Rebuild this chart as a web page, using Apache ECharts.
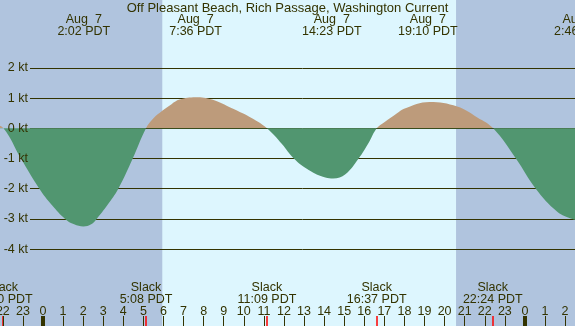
<!DOCTYPE html>
<html>
<head>
<meta charset="utf-8">
<script src="https://cdn.jsdelivr.net/npm/echarts@6/dist/echarts.min.js"></script>
<style>
html, body { margin: 0; padding: 0; }
#chart { width: 575px; height: 326px; }
</style>
</head>
<body>
<div id="chart"></div>
<script>
"use strict"
// current speed (kt), hours from midnight Aug 7 PDT (negative = Aug 6, >24 = Aug 8)
var curHours = [-2.5, -1.97, -1.1, -0.18, 0.45, 1.1, 1.55, 2.01, 2.4, 2.67, 3.2, 3.75, 4.47, 5.13,
    5.5, 5.94, 6.4, 6.8, 7.6, 8.42, 9.41, 10.41, 11.15,
    11.9, 12.49, 13.23, 14.06, 14.45, 15.06, 15.72, 16.22, 16.62,
    17.0, 17.63, 17.98, 19.25, 20.63, 21.63, 22.42,
    23.55, 24.54, 25.61, 26.36, 26.77, 27.3];
var curKt = [0.15, 0, -1.0, -2.0, -2.55, -3.0, -3.18, -3.25, -3.18, -3.0, -2.55, -2.0, -1.0, 0,
    0.33, 0.58, 0.8, 0.95, 1.03, 0.95, 0.66, 0.33, 0,
    -0.52, -1.0, -1.38, -1.63, -1.66, -1.52, -1.0, -0.48, 0,
    0.2, 0.5, 0.65, 0.87, 0.72, 0.36, 0,
    -1.0, -2.0, -2.76, -3.0, -3.05, -3.0];

// max current times (top labels)
var maxHours = [2.033, 7.6, 14.383, 19.167, 26.767];
var maxLabels = ['Aug  7\n2:02 PDT', 'Aug  7\n7:36 PDT', 'Aug  7\n14:23 PDT', 'Aug  7\n19:10 PDT', 'Aug  8\n2:46 PDT'];

// slack times (bottom labels + red ticks)
var slackHours = [-2.0, 5.133, 11.15, 16.617, 22.4];
var slackLabels = ['22:00 PDT', '5:08 PDT', '11:09 PDT', '16:37 PDT', '22:24 PDT'];

var hourTicks = [-2, -1, 0, 1, 2, 3, 4, 5, 6, 7, 8, 9, 10, 11, 12, 13, 14, 15, 16, 17, 18, 19, 20, 21, 22, 23, 24, 25, 26];
var midnights = [0, 24];

var sunrise = 5.94, sunset = 20.57;

// layout
var pxPerHour = 20.08;
var xMin = -43 / pxPerHour;
var xMax = xMin + 585 / pxPerHour;
var pxPerKt = 30.2;
var zeroY = 128.3;

var ink = '#333300';
var font = 'Liberation Sans';
var nightColor = '#b0c4de';
var dayColor = '#ddf6fe';
var ebbColor = '#519670';
var floodColor = '#bd9b7b';

var curData = curHours.map(function (h, i) { return [h, curKt[i]]; });

function pick(list, labels, v) {
    for (var i = 0; i < list.length; i++) {
        if (Math.abs(list[i] - v) < 0.001) return labels[i];
    }
    return '';
}

var ticksLines = [];
for (var i = 0; i < midnights.length; i++) {
    ticksLines.push({ xAxis: midnights[i], lineStyle: { color: ink, width: 4, type: 'solid' } });
}
for (var j = 0; j < slackHours.length; j++) {
    ticksLines.push({ xAxis: slackHours[j], lineStyle: { color: '#ff0000', width: 1.5, type: 'solid' } });
}

var option = {
    backgroundColor: nightColor,
    animation: false,
    textStyle: { fontFamily: font },
    title: {
        text: 'Off Pleasant Beach, Rich Passage, Washington Current',
        left: 'center',
        top: 2,
        padding: 0,
        textStyle: { fontSize: 13, fontWeight: 'normal', color: ink, fontFamily: font, lineHeight: 12 }
    },
    visualMap: {
        show: false,
        type: 'piecewise',
        seriesIndex: 0,
        dimension: 1,
        pieces: [
            { min: -20, max: 0, color: ebbColor },
            { min: 0, max: 20, color: floodColor }
        ]
    },
    grid: [
        { left: 0, right: -10, top: 0, bottom: 0, outerBoundsMode: 'none' },
        { left: 30, right: 0, top: zeroY - 2 * pxPerKt, height: 6 * pxPerKt, outerBoundsMode: 'none' },
        { left: 0, right: -10, top: 316, bottom: 0, outerBoundsMode: 'none' },
        { left: 30, right: 0, top: zeroY - 2 * pxPerKt, height: 6 * pxPerKt, outerBoundsMode: 'none' }
    ],
    xAxis: [
        {
            gridIndex: 0, type: 'value', position: 'top', min: xMin, max: xMax, z: 5,
            axisLine: { show: false }, axisTick: { show: false }, splitLine: { show: false },
            axisLabel: {
                inside: true, margin: 13.5, customValues: maxHours,
                color: ink, fontSize: 12.5, lineHeight: 12, fontFamily: font,
                formatter: function (v) { return pick(maxHours, maxLabels, v); }
            }
        },
        { gridIndex: 1, type: 'value', min: 0, max: 1, show: false },
        {
            gridIndex: 2, type: 'value', position: 'bottom', min: xMin, max: xMax, z: 5,
            axisLine: { show: false }, splitLine: { show: false },
            axisTick: { show: true, inside: true, length: 10, customValues: hourTicks, lineStyle: { color: ink, width: 1 } },
            axisLabel: {
                inside: true, margin: 8, customValues: hourTicks,
                color: ink, fontSize: 12.5, lineHeight: 12, fontFamily: font,
                formatter: function (v) { return String(((Math.round(v) % 24) + 24) % 24); }
            }
        },
        {
            gridIndex: 2, type: 'value', position: 'top', min: xMin, max: xMax, z: 5,
            axisLine: { show: false }, axisTick: { show: false }, splitLine: { show: false },
            axisLabel: {
                margin: 10.8, customValues: slackHours,
                color: ink, fontSize: 12.5, lineHeight: 12, fontFamily: font,
                formatter: function (v) { return 'Slack\n' + pick(slackHours, slackLabels, v); }
            }
        },
        { gridIndex: 3, type: 'value', min: 0, max: 1, show: false }
    ],
    yAxis: [
        { gridIndex: 0, type: 'value', min: -(326 - zeroY) / pxPerKt, max: zeroY / pxPerKt, show: false },
        {
            gridIndex: 1, type: 'value', min: -4, max: 2, interval: 1, z: 2,
            axisLine: { show: false }, axisTick: { show: false }, axisLabel: { show: false },
            splitLine: { show: true, lineStyle: { color: ink, width: 1 } }
        },
        { gridIndex: 2, type: 'value', min: 0, max: 1, show: false },
        {
            gridIndex: 3, type: 'value', min: -4, max: 2, interval: 1, z: 6,
            axisLine: { show: false }, axisTick: { show: false }, splitLine: { show: false },
            axisLabel: {
                margin: 2, color: ink, fontSize: 12.5, fontFamily: font,
                formatter: function (v) { return v + ' kt'; }
            }
        }
    ],
    series: [
        {
            type: 'line',
            xAxisIndex: 0,
            yAxisIndex: 0,
            z: 3,
            data: curData,
            smooth: 0.4,
            showSymbol: false,
            symbol: 'none',
            lineStyle: { width: 0 },
            areaStyle: { opacity: 1 }
        },
        {
            // daylight band
            type: 'line',
            xAxisIndex: 0,
            yAxisIndex: 0,
            z: 1,
            data: [],
            markArea: {
                silent: true,
                label: { show: false },
                itemStyle: { color: dayColor },
                data: [[{ xAxis: sunrise }, { xAxis: sunset }]]
            }
        },
        {
            type: 'line',
            xAxisIndex: 2,
            yAxisIndex: 2,
            z: 4,
            data: [],
            markLine: {
                silent: true,
                symbol: ['none', 'none'],
                label: { show: false },
                animation: false,
                data: ticksLines
            }
        }
    ]
};

var chart = echarts.init(document.getElementById('chart'));
chart.setOption(option);
</script>
</body>
</html>
